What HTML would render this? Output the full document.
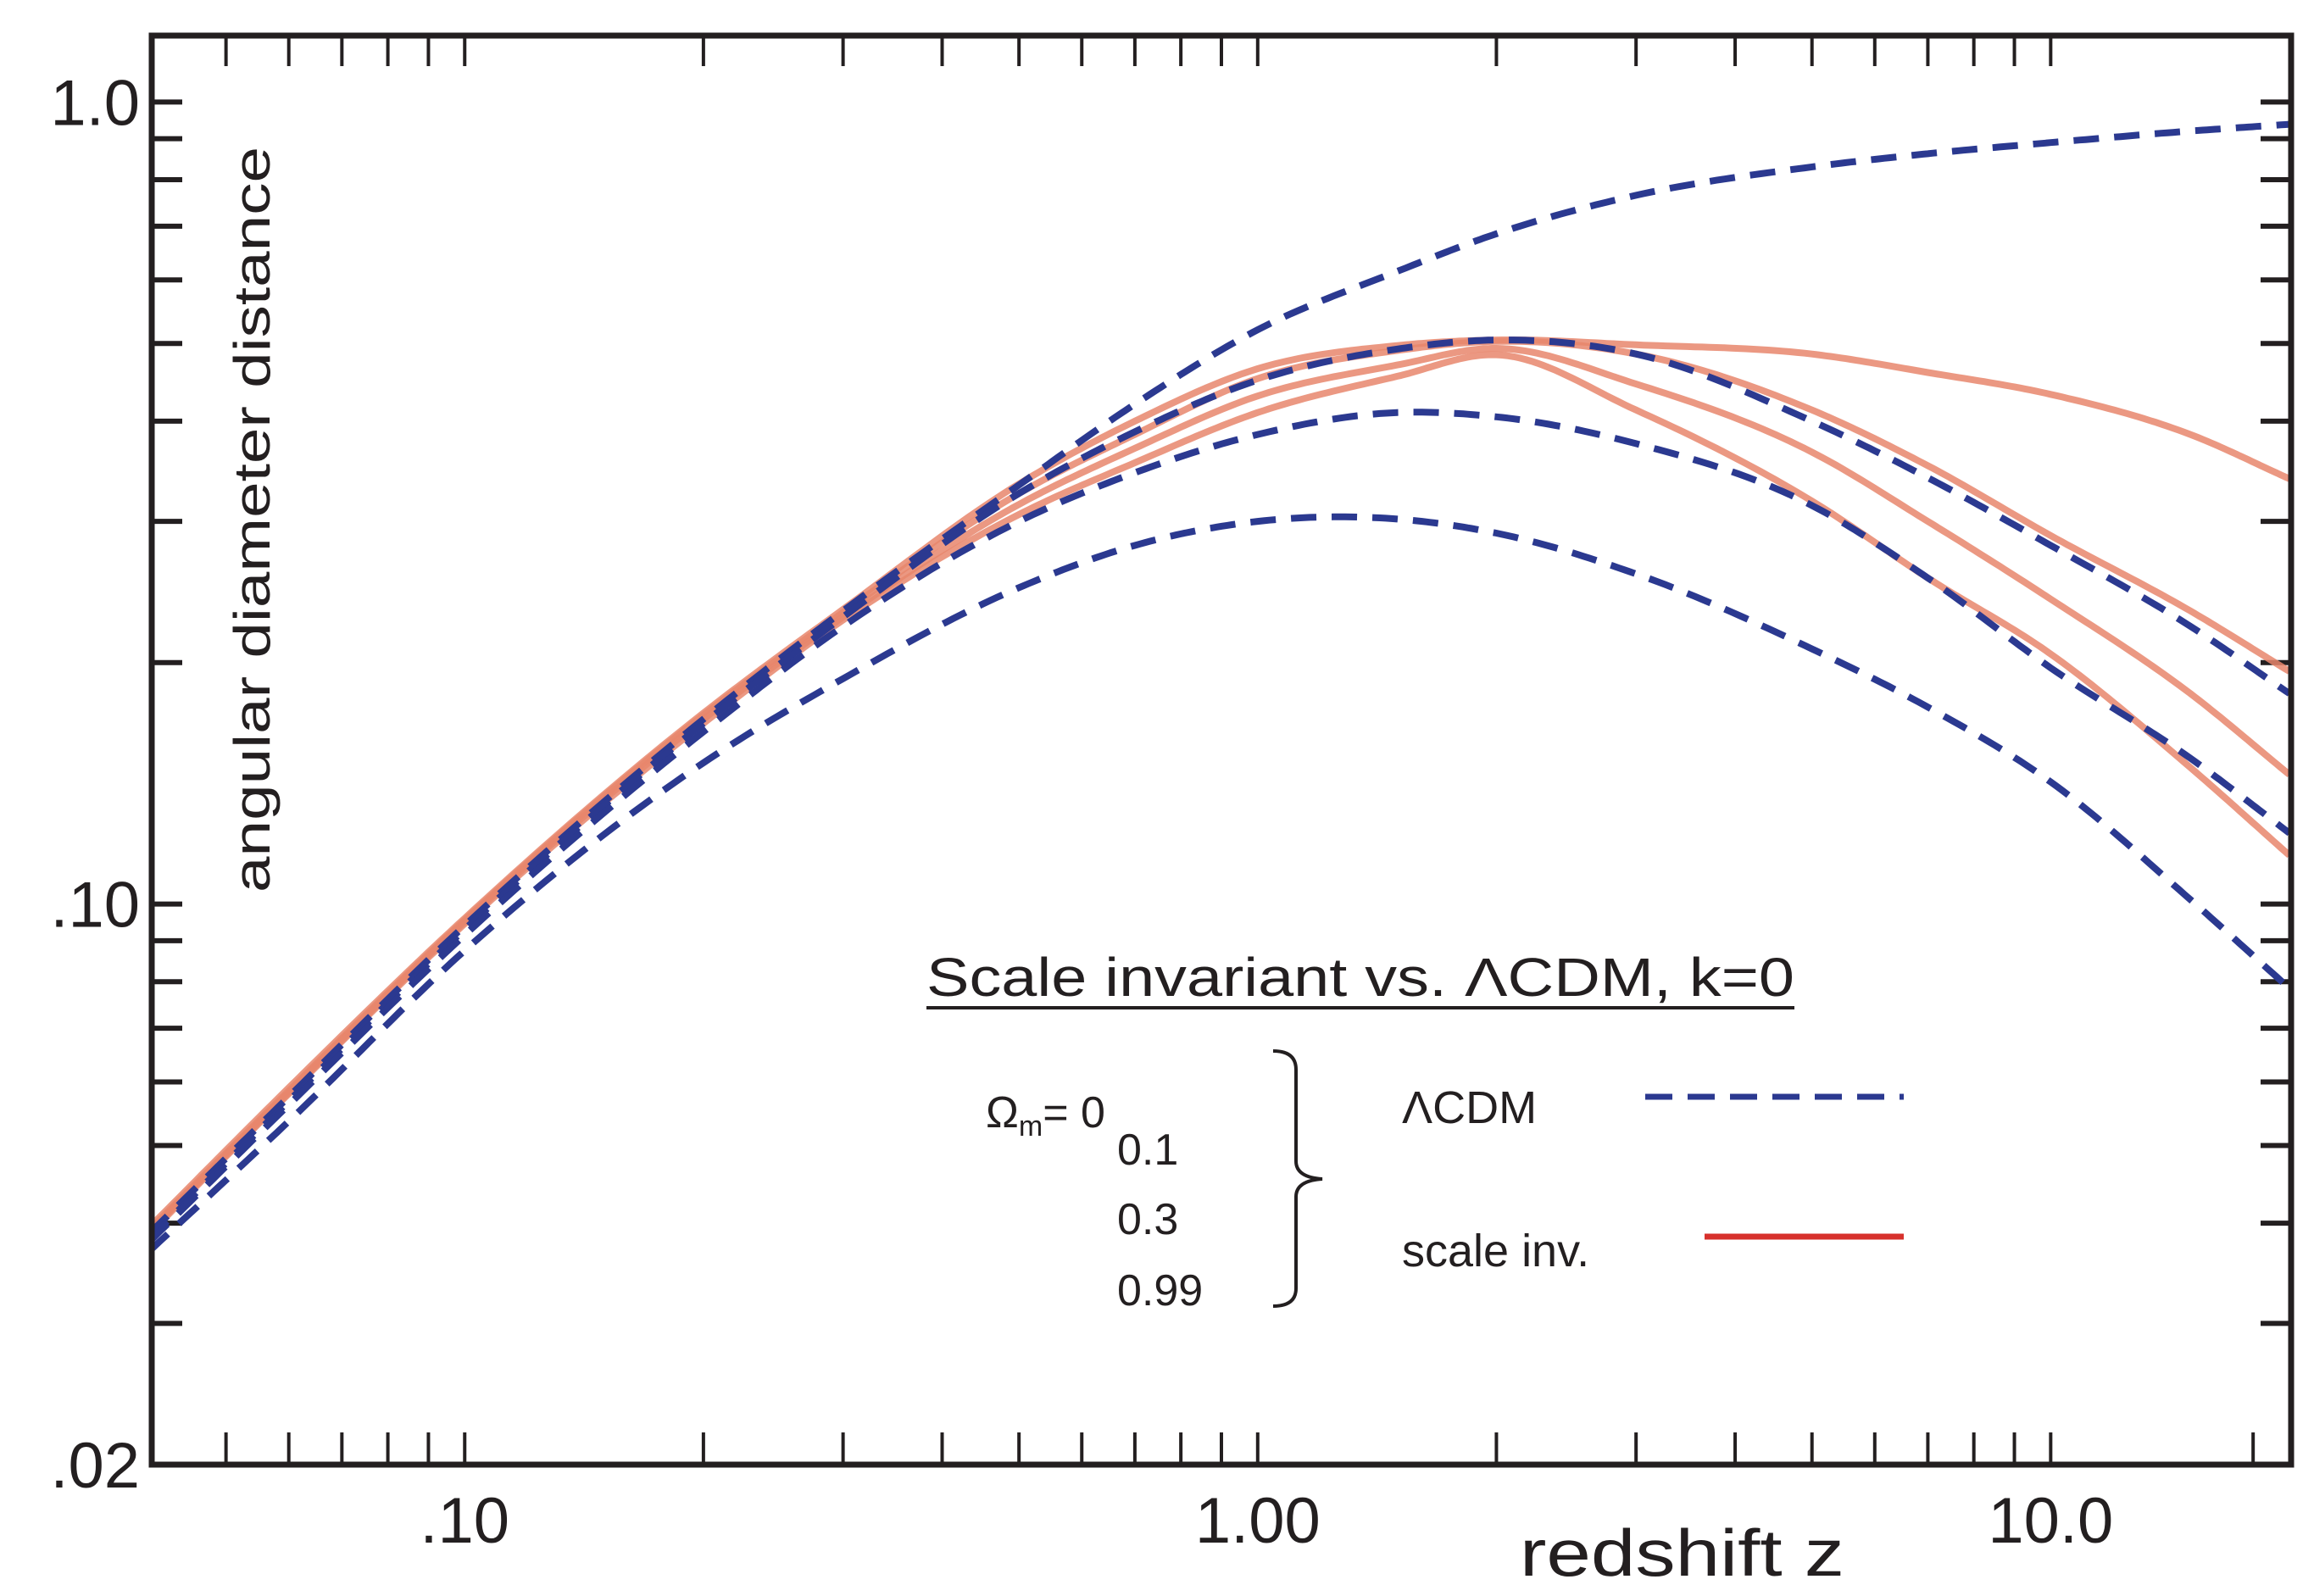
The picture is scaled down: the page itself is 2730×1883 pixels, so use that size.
<!DOCTYPE html>
<html><head><meta charset="utf-8">
<style>
html,body{margin:0;padding:0;background:#fff;}
svg{display:block;}
text{font-family:"Liberation Sans",sans-serif;fill:#231f20;}
</style></head>
<body>
<svg id="chart" width="2730" height="1883" viewBox="0 0 2730 1883" xmlns="http://www.w3.org/2000/svg">
<g id="ticks"></g>
<g id="curves"></g>
<rect x="179" y="42" width="2524" height="1686" fill="none" stroke="#231f20" stroke-width="7"/>
<g id="labels"></g>
<text transform="translate(318,1053) rotate(-90)" font-size="60" textLength="880" lengthAdjust="spacingAndGlyphs">angular diameter distance</text>
<text x="1793" y="1859" font-size="78" textLength="383" lengthAdjust="spacingAndGlyphs">redshift  z</text>
<g>
<text x="1093" y="1175" font-size="64" textLength="1024" lengthAdjust="spacingAndGlyphs">Scale invariant vs.  ΛCDM, k=0</text>
<line x1="1093" y1="1189" x2="2117" y2="1189" stroke="#231f20" stroke-width="4"/>
<text x="1163" y="1330" font-size="52">Ω<tspan font-size="34" dy="10">m</tspan><tspan dy="-10">=  0</tspan></text>
<text x="1318" y="1374" font-size="52">0.1</text>
<text x="1318" y="1456" font-size="52">0.3</text>
<text x="1318" y="1540" font-size="52">0.99</text>
<path d="M1502,1240 Q1529,1240 1529,1262 L1529,1370 Q1529,1389 1560,1391 Q1529,1393 1529,1412 L1529,1520 Q1529,1541 1502,1541" fill="none" stroke="#231f20" stroke-width="4"/>
<text x="1654" y="1325" font-size="54">ΛCDM</text>
<line x1="1941" y1="1294" x2="2246" y2="1294" stroke="#2b3990" stroke-width="7" stroke-dasharray="32,18"/>
<text x="1654" y="1494" font-size="54">scale  inv.</text>
<line x1="2011" y1="1459" x2="2246" y2="1459" stroke="#d7312c" stroke-width="7"/>
</g>
</svg>
<script>
const zGrid = [0.04,0.06,0.1,0.2,0.3,0.5,0.7,1,1.5,2,3,5,7,10,15,20];
const lcdm0  = [0.0388,0.0575,0.094,0.17,0.232,0.333,0.42,0.52,0.615,0.685,0.765,0.83,0.862,0.89,0.92,0.938];
const lcdm01 = [0.0382,0.0568,0.093,0.168,0.228,0.325,0.388,0.45,0.492,0.505,0.485,0.40,0.34,0.280,0.222,0.183];
const lcdm03 = [0.0379,0.0562,0.0915,0.164,0.222,0.30,0.345,0.385,0.41,0.405,0.375,0.314,0.255,0.197,0.152,0.1226];
const lcdm099= [0.0369,0.0536,0.0875,0.15,0.191,0.248,0.28,0.30,0.302,0.29,0.258,0.208,0.176,0.142,0.1013,0.0785];
const si0    = [0.0395,0.059,0.096,0.173,0.233,0.334,0.40,0.465,0.497,0.505,0.498,0.485,0.46,0.432,0.385,0.339];
const si01   = [0.0392,0.0585,0.0955,0.172,0.231,0.325,0.385,0.452,0.49,0.503,0.485,0.413,0.352,0.288,0.232,0.195];
const si03   = [0.039,0.0582,0.095,0.170,0.228,0.315,0.37,0.43,0.47,0.493,0.445,0.366,0.30,0.24,0.183,0.145];
const si099  = [0.0388,0.058,0.0945,0.168,0.226,0.306,0.355,0.41,0.455,0.484,0.413,0.318,0.255,0.205,0.148,0.115];
const xTickValsBottom = [0.05,0.06,0.07,0.08,0.09,0.1,0.2,0.3,0.4,0.5,0.6,0.7,0.8,0.9,1,2,3,4,5,6,7,8,9,10,18];
const xTickValsTop = [0.05,0.06,0.07,0.08,0.09,0.1,0.2,0.3,0.4,0.5,0.6,0.7,0.8,0.9,1,2,3,4,5,6,7,8,9,10];
const yTickVals = [0.03,0.04,0.05,0.06,0.07,0.08,0.09,0.1,0.2,0.3,0.4,0.5,0.6,0.7,0.8,0.9,1.0];
const xLabels = [".10","1.00","10.0"];
const xLabelVals = [0.1,1,10];
const yLabels = ["1.0",".10",".02"];
const yLabelVals = [1.0,0.1,0.02];

const NS="http://www.w3.org/2000/svg";
const X0=179,X1=2703,Y0=42,Y1=1728;
const xmin=Math.log10(0.0403),xmax=Math.log10(20.1);
const ymin=Math.log10(0.02),ymax=Math.log10(1.21);
function sxl(lz){return X0+(lz-xmin)/(xmax-xmin)*(X1-X0);}
function syl(ld){return Y1-(ld-ymin)/(ymax-ymin)*(Y1-Y0);}
function sx(z){return sxl(Math.log10(z));}
function sy(d){return syl(Math.log10(d));}
function mk(tag,attrs,parent){const e=document.createElementNS(NS,tag);for(const k in attrs)e.setAttribute(k,attrs[k]);parent.appendChild(e);return e;}

const tg=document.getElementById('ticks');
xTickValsBottom.forEach(v=>{
  const x=sx(v);
  const b=mk('line',{x1:x,y1:Y1,x2:x,y2:Y1-38,stroke:'#231f20','stroke-width':4},tg);
  
  
});
xTickValsTop.forEach(v=>{
  const x=sx(v);
  const t=mk('line',{x1:x,y1:Y0,x2:x,y2:Y0+36,stroke:'#231f20','stroke-width':4},tg);
  
  
});
yTickVals.forEach(v=>{
  const y=sy(v);
  const l=mk('line',{x1:X0,y1:y,x2:X0+36,y2:y,stroke:'#231f20','stroke-width':6},tg);
  
  
  const r=mk('line',{x1:X1,y1:y,x2:X1-36,y2:y,stroke:'#231f20','stroke-width':6},tg);
  
  
});
const lg=document.getElementById('labels');
xLabels.forEach((s,i)=>{
  const t=mk('text',{x:sx(xLabelVals[i]),y:1820,'font-size':76,'text-anchor':'middle'},lg);
  t.textContent=s;
  
  
});
yLabels.forEach((s,i)=>{
  const t=mk('text',{x:165,y:sy(yLabelVals[i])+27,'font-size':76,'text-anchor':'end'},lg);
  t.textContent=s;
  
  
});

// cubic Hermite interpolation in log-log space with non-uniform tangents
function pathFor(vals){
  const X=zGrid.map(z=>Math.log10(z)), Y=vals.map(v=>Math.log10(v));
  const n=X.length, h=[], d=[], m=[];
  for(let i=0;i<n-1;i++){h[i]=X[i+1]-X[i];d[i]=(Y[i+1]-Y[i])/h[i];}
  m[0]=d[0]; m[n-1]=d[n-2];
  for(let i=1;i<n-1;i++){m[i]=(d[i-1]*h[i]+d[i]*h[i-1])/(h[i-1]+h[i]);}
  let s='M'+sxl(X[0]).toFixed(1)+','+syl(Y[0]).toFixed(1);
  for(let i=0;i<n-1;i++){
    const N=24;
    for(let k=1;k<=N;k++){
      const t=k/N,t2=t*t,t3=t2*t;
      const y=(2*t3-3*t2+1)*Y[i]+(t3-2*t2+t)*h[i]*m[i]+(-2*t3+3*t2)*Y[i+1]+(t3-t2)*h[i]*m[i+1];
      s+=' L'+sxl(X[i]+t*h[i]).toFixed(1)+','+syl(y).toFixed(1);
    }
  }
  return s;
}
const cg=document.getElementById('curves');
const clip=mk('clipPath',{id:'pc'},mk('defs',{},cg));
mk('rect',{x:X0,y:Y0,width:X1-X0,height:Y1-Y0},clip);
[[si0,'si-omega-0'],[si01,'si-omega-0.1'],[si03,'si-omega-0.3'],[si099,'si-omega-0.99']].forEach(([v,n])=>{
  const p=mk('path',{d:pathFor(v),fill:'none',stroke:'#e8866c','stroke-width':8,'stroke-opacity':0.85,'stroke-linejoin':'round','clip-path':'url(#pc)'},cg);
  
  
});
[[lcdm0,'lcdm-omega-0'],[lcdm01,'lcdm-omega-0.1'],[lcdm03,'lcdm-omega-0.3'],[lcdm099,'lcdm-omega-0.99']].forEach(([v,n])=>{
  const p=mk('path',{d:pathFor(v),fill:'none',stroke:'#2b3990','stroke-width':8,'stroke-dasharray':'30,18','clip-path':'url(#pc)'},cg);
  
  
});
</script>
</body></html>
